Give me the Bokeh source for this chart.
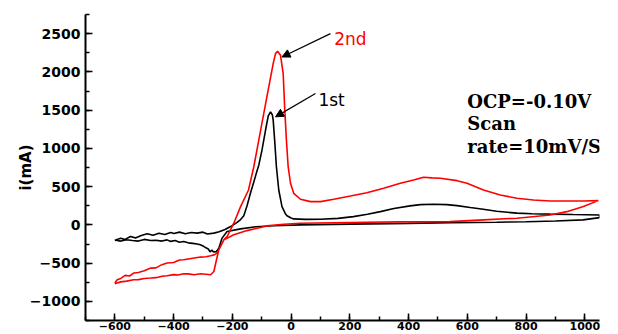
from bokeh.plotting import figure
from bokeh.models import SingleIntervalTicker, Arrow, NormalHead, Range1d, Label
from bokeh.embed import file_html
from bokeh.resources import INLINE

# 1st cycle (black): forward scan -600 -> 1050 mV, then return scan
cycle1_potential = [
    -600, -580, -565, -547, -530, -510, -490, -470, -450, -430, -410, -399, -380, -360,
    -340, -320, -300, -285, -263, -245, -225, -206, -185, -172, -161, -150, -138, -127,
    -118, -110, -99, -87, -78, -70, -64, -61, -56, -50, -42, -31, -20, -14, 0, 9, 50,
    100, 160, 212, 260, 304, 350, 405, 440, 484, 530, 565, 610, 654, 700, 769, 820, 882,
    960, 1050,
    1050, 994, 900, 800, 700, 541, 400, 200, 32, -60, -120, -172, -218, -235, -246, -255,
    -264, -270, -276, -282, -290, -300, -309, -320, -335, -350, -366, -380, -395, -410,
    -422, -440, -460, -478, -500, -520, -540, -560, -580, -592, -600,
]
cycle1_current = [
    -200, -175, -190, -153, -170, -140, -117, -135, -110, -125, -100, -112, -95, -115,
    -100, -108, -95, -120, -108, -90, -60, -22, 30, 70, 120, 250, 420, 560,
    680, 780, 980, 1240, 1420, 1477, 1440, 1369, 1108, 760, 456, 239, 150, 120, 90, 78, 72,
    74, 85, 108, 140, 173, 215, 248, 265, 270, 265, 252, 228, 205, 178, 153, 145, 140,
    135, 130,
    95, 65, 50, 40, 35, 30, 20, 10, 0, -12, -25, -52, -87, -173, -304, -350,
    -355, -330, -352, -315, -300, -275, -261, -250, -242, -235, -218, -228, -205, -216,
    -196, -212, -200, -205, -190, -212, -205, -195, -212, -205, -200,
]

# 2nd cycle (red)
cycle2_potential = [
    -600, -592, -580, -565, -550, -536, -520, -500, -478, -460, -440, -422, -400, -380,
    -366, -345, -325, -308, -290, -274, -262, -252, -240, -228, -218, -195, -172, -145,
    -127, -110, -93, -76, -61, -53, -46, -36, -27, -22, -16, -10, -2, 9, 32, 66, 100,
    145, 202, 258, 315, 372, 417, 451, 480, 508, 565, 599, 655, 712, 769, 825, 882, 995,
    1046,
    995, 939, 882, 769, 655, 541, 372, 258, 32, -25, -82, -150, -195, -229, -246, -254,
    -263, -274, -290, -308, -330, -350, -366, -385, -400, -422, -440, -460, -478, -500,
    -520, -536, -560, -580, -592, -600,
]
cycle2_current = [
    -760, -717, -700, -660, -668, -630, -622, -600, -565, -562, -520, -499, -492, -460,
    -456, -442, -430, -421, -416, -404, -392, -369, -280, -190, -153, 22, 239, 456,
    760, 1108, 1457, 1803, 2109, 2239, 2269, 2217, 1978, 1543, 1108, 760, 544, 413, 335, 304, 304,
    335, 378, 421, 479, 544, 587, 622, 615, 609, 578, 544, 456, 391, 348, 326, 313, 313,
    317,
    239, 173, 130, 87, 65, 43, 39, 35, 22, 9, -13, -75, -130, -196, -326, -456,
    -609, -652, -645, -639, -652, -640, -639, -656, -650, -665, -672, -690, -695, -700,
    -716, -717, -735, -745, -760, -770,
]

x_major_interval = 200
y_major_interval = 500

p = figure(width=618, height=334, output_backend="svg", toolbar_location=None,
           x_range=Range1d(-700, 1050), y_range=Range1d(-1250, 2750),
           min_border_left=85, min_border_right=19, min_border_top=14, min_border_bottom=14,
           outline_line_color=None, background_fill_color="white")

p.xgrid.visible = False
p.ygrid.visible = False

p.xaxis.ticker = SingleIntervalTicker(interval=x_major_interval, num_minor_ticks=2)
p.yaxis.ticker = SingleIntervalTicker(interval=y_major_interval, num_minor_ticks=2)

for ax in (p.xaxis[0], p.yaxis[0]):
    ax.axis_line_width = 2
    ax.axis_line_color = "black"
    ax.major_tick_in = 7
    ax.major_tick_out = 0
    ax.minor_tick_in = 4
    ax.minor_tick_out = 0
    ax.major_tick_line_width = 1.5
    ax.minor_tick_line_width = 1.5
    ax.major_label_text_color = "black"
    ax.major_label_text_font = "DejaVu Sans"
    ax.major_label_text_font_style = "bold"

p.yaxis.major_label_text_font_size = "14px"
p.yaxis.major_label_standoff = 5
p.xaxis.major_label_text_font_size = "11px"
p.xaxis.major_label_standoff = 1

p.yaxis.axis_label = "i(mA)"
p.yaxis.axis_label_text_font = "DejaVu Sans"
p.yaxis.axis_label_text_font_style = "bold"
p.yaxis.axis_label_text_font_size = "15px"
p.yaxis.axis_label_standoff = -8
p.yaxis.axis_label_text_color = "black"

p.line(cycle1_potential, cycle1_current, line_color="black", line_width=1.6)
p.line(cycle2_potential, cycle2_current, line_color="#ff0000", line_width=1.6)

p.add_layout(Arrow(end=NormalHead(size=8, fill_color="black", line_color="black"),
                   x_start=134, y_start=2500, x_end=-31, y_end=2195,
                   line_color="black", line_width=1.2))
p.add_layout(Arrow(end=NormalHead(size=8, fill_color="black", line_color="black"),
                   x_start=83, y_start=1717, x_end=-53, y_end=1412,
                   line_color="black", line_width=1.2))

p.add_layout(Label(x=147, y=2425, text="2nd", text_color="#ff0000",
                   text_font="DejaVu Sans", text_font_size="17px",
                   text_baseline="alphabetic", text_align="left"))
p.add_layout(Label(x=93, y=1630, text="1st", text_color="black",
                   text_font="DejaVu Sans", text_font_size="17px",
                   text_baseline="alphabetic", text_align="left"))

for txt, yv in (("OCP=-0.10V", 1617), ("Scan", 1330), ("rate=10mV/S", 1030)):
    p.add_layout(Label(x=600, y=yv, text=txt, text_color="black",
                       text_font="DejaVu Serif", text_font_style="bold",
                       text_font_size="18px", text_baseline="alphabetic",
                       text_align="left"))

open("out.html", "w").write(file_html(p, INLINE))
